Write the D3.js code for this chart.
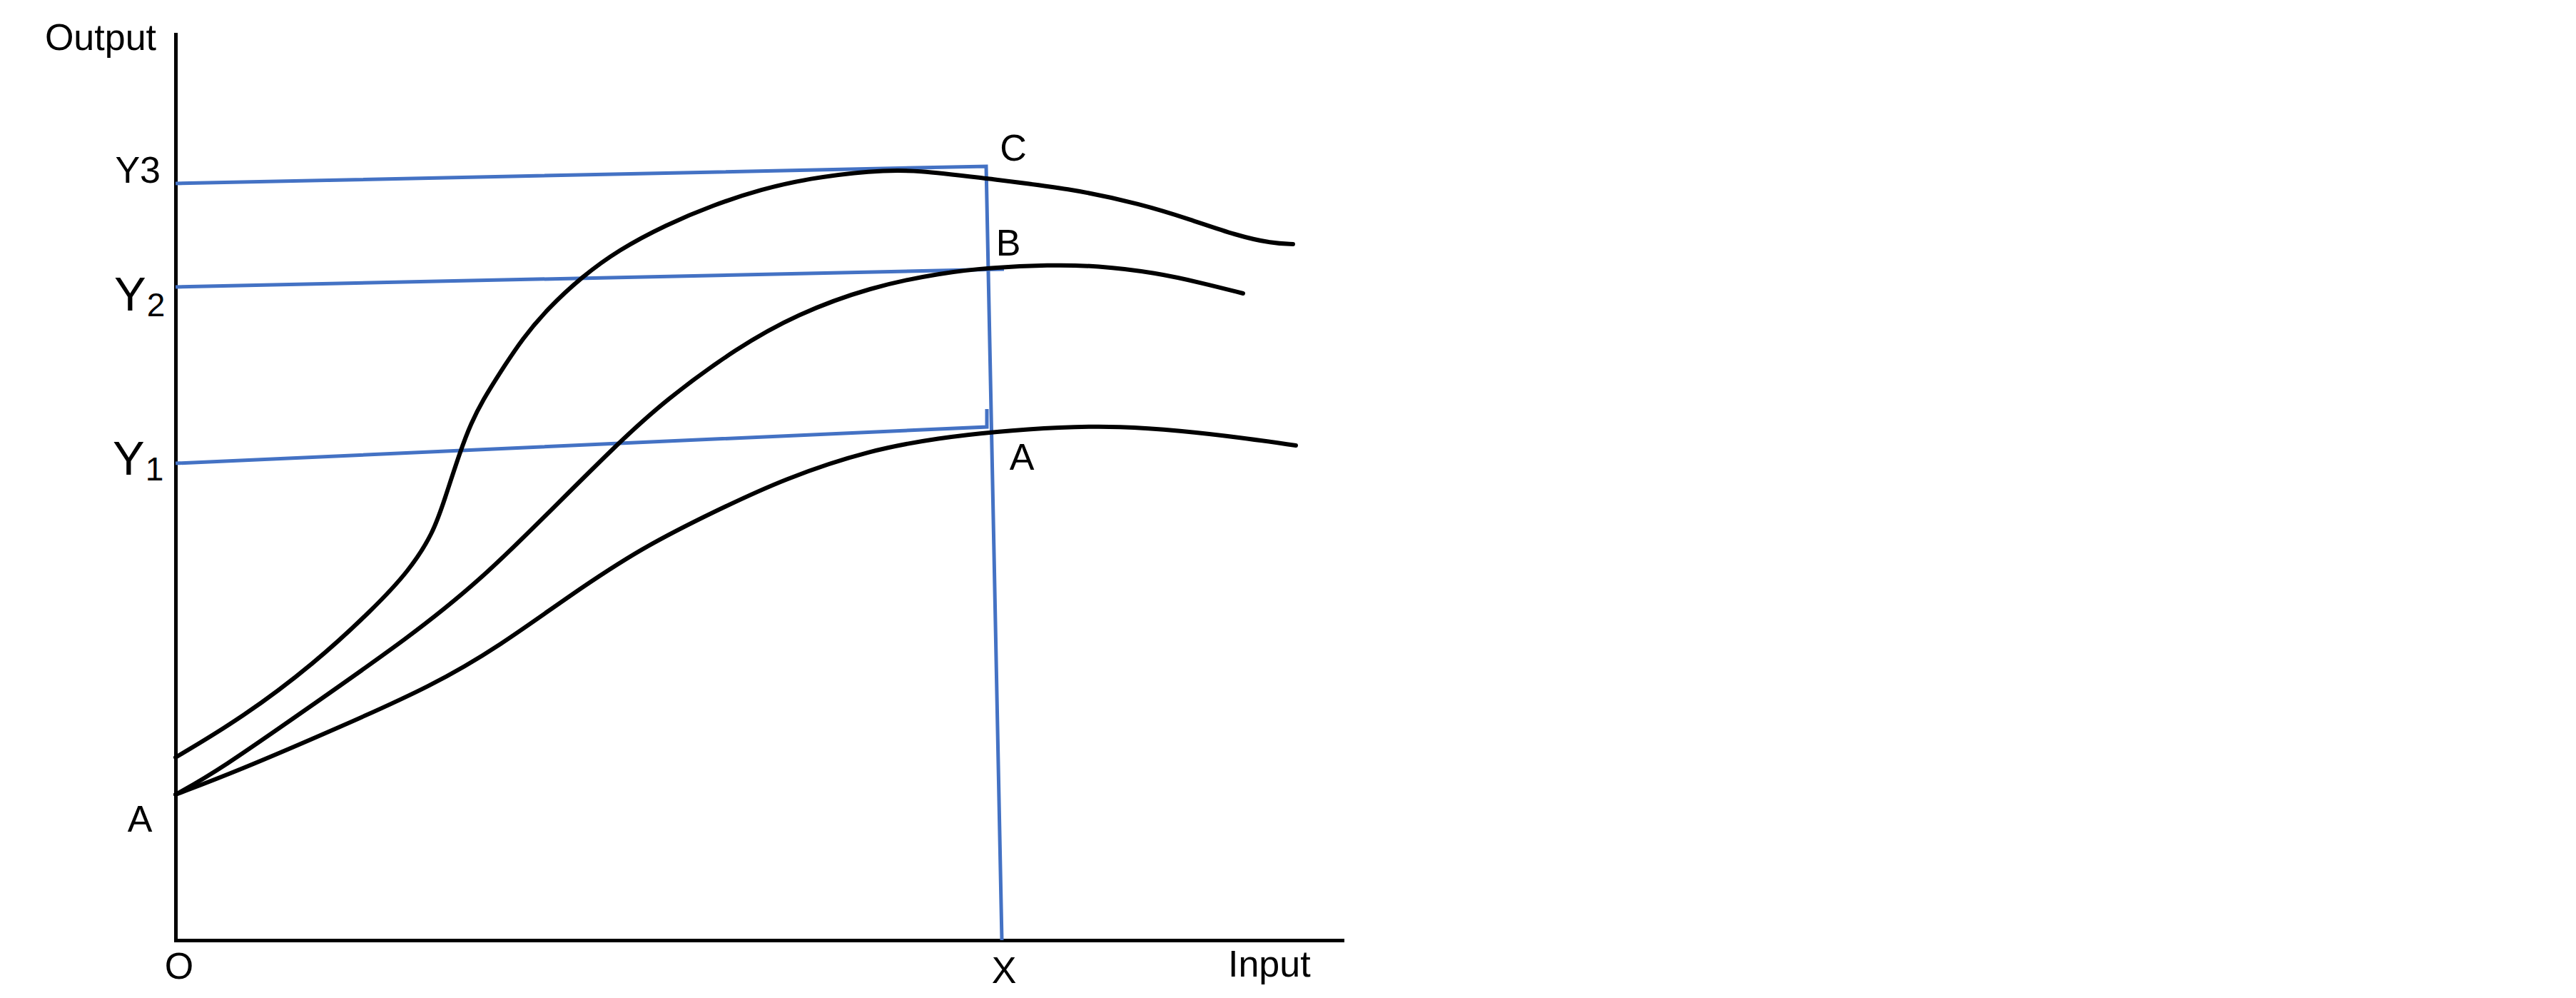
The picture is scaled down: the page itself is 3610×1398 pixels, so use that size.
<!DOCTYPE html>
<html>
<head>
<meta charset="utf-8">
<script src="https://cdn.jsdelivr.net/npm/d3@7"></script>
<style>
  html, body { margin: 0; padding: 0; background: #ffffff; }
  svg { display: block; }
  text { font-family: "Liberation Sans", Arial, Helvetica, sans-serif; fill: #000; }
</style>
</head>
<body>
<svg id="chart" width="3610" height="1398"></svg>
<script>
// ---- data (abstract input / output units) ----
const curveA_x = [0, 8.7, 22.7, 36.1, 45.4, 55.4, 65.4, 75.4, 85.4, 97.4, 107.4, 114.4, 124.1, 132.4, 140.7, 149.4, 157.0];
const curveA_y = [20.4, 23.7, 29.7, 35.7, 41.2, 48.4, 55.0, 60.0, 64.7, 68.7, 70.4, 71.2, 71.9, 72.0, 71.4, 70.4, 69.3];

const curveB_x = [0, 6.1, 19.4, 32.7, 42.7, 52.1, 61.9, 68.7, 78.7, 87.1, 97.4, 107.4, 114.1, 122.4, 129.1, 137.4, 144.1, 149.6];
const curveB_y = [20.4, 23.8, 33.1, 42.4, 50.4, 59.7, 69.5, 75.7, 83.0, 87.7, 91.5, 93.5, 94.2, 94.6, 94.5, 93.5, 92.0, 90.6];

const curveC_x = [0, 9.4, 19.4, 27.7, 32.7, 36.1, 37.7, 39.9, 41.4, 43.1, 45.4, 48.7, 52.1, 56.9, 62.1, 68.7, 75.4, 82.1, 88.7, 97.4, 104.1, 113.4, 125.4, 135.4, 142.1, 148.7, 153.7, 156.6];
const curveC_y = [25.6, 31.2, 38.7, 46.4, 51.7, 57.0, 61.7, 68.5, 72.4, 75.7, 79.4, 84.4, 88.4, 92.9, 96.7, 100.2, 103.0, 105.2, 106.7, 107.8, 107.9, 106.7, 105.3, 103.1, 101.0, 98.7, 97.6, 97.5];

// blue guide lines
const guideY3_x = [0, 113.6, 115.8];
const guideY3_y = [106.0, 108.4, 0];
const guideY2_x = [0, 116.1];
const guideY2_y = [91.5, 94.0];
const guideY1_x = [0, 113.7, 113.7];
const guideY1_y = [66.8, 71.9, 74.4];

// labels
const labelText = ["Output", "Y3", "A", "O", "X", "Input", "C", "B", "A"];
const labelX    = [-2.7, -2.1, -5.0, 0.5, 116.1, 147.5, 117.4, 116.7, 118.6];
const labelY    = [124.7, 106.1, 15.2, -5.4, -6.0, -5.1, 109.2, 95.9, 65.9];
const labelAnchor = ["end", "end", "middle", "middle", "middle", "start", "middle", "middle", "middle"];

const subLabelMain = ["Y", "Y"];
const subLabelSub  = ["2", "1"];
const subLabelX    = [-8.6, -8.8];
const subLabelY    = [88.2, 65.2];

// ---- drawing ----
const svg = d3.select("#chart");
const x = d3.scaleLinear().domain([0, 163.5]).range([246, 1881]);
const y = d3.scaleLinear().domain([0, 126.9]).range([1317, 48]);

// axes
const xAxis = d3.axisBottom(x).ticks(0).tickSize(0).tickSizeOuter(0);
const yAxis = d3.axisLeft(y).ticks(0).tickSize(0).tickSizeOuter(0);
const gx = svg.append("g").attr("transform", `translate(0,${y(0)})`).call(xAxis);
const gy = svg.append("g").attr("transform", `translate(${x(0)},0)`).call(yAxis);
[gx, gy].forEach(g => {
  g.selectAll("text").remove();
  g.select(".domain").attr("stroke", "#000").attr("stroke-width", 5).attr("stroke-linecap", "square");
});

const zip = (xs, ys) => xs.map((v, i) => [v, ys[i]]);

// guide lines (blue)
const straight = d3.line().x(d => x(d[0])).y(d => y(d[1])).curve(d3.curveLinear);
[[guideY3_x, guideY3_y], [guideY2_x, guideY2_y], [guideY1_x, guideY1_y]].forEach(([gxs, gys]) => {
  svg.append("path")
    .attr("d", straight(zip(gxs, gys)))
    .attr("fill", "none")
    .attr("stroke", "#4472C4")
    .attr("stroke-width", 5)
    .attr("stroke-linejoin", "miter");
});

// curves (black)
const smooth = d3.line().x(d => x(d[0])).y(d => y(d[1])).curve(d3.curveBasis);
[[curveA_x, curveA_y], [curveB_x, curveB_y], [curveC_x, curveC_y]].forEach(([cxs, cys]) => {
  svg.append("path")
    .attr("d", smooth(zip(cxs, cys)))
    .attr("fill", "none")
    .attr("stroke", "#000")
    .attr("stroke-width", 6)
    .attr("stroke-linecap", "round");
});

// labels
labelText.forEach((t, i) => {
  svg.append("text")
    .attr("x", x(labelX[i]))
    .attr("y", y(labelY[i]))
    .attr("text-anchor", labelAnchor[i])
    .attr("font-size", 52)
    .text(t);
});

subLabelMain.forEach((t, i) => {
  const tx = svg.append("text")
    .attr("x", x(subLabelX[i]))
    .attr("y", y(subLabelY[i]))
    .attr("font-size", 67);
  tx.append("tspan").text(t);
  tx.append("tspan").attr("font-size", 46).attr("dy", 8).attr("dx", 1).text(subLabelSub[i]);
});
</script>
</body>
</html>
